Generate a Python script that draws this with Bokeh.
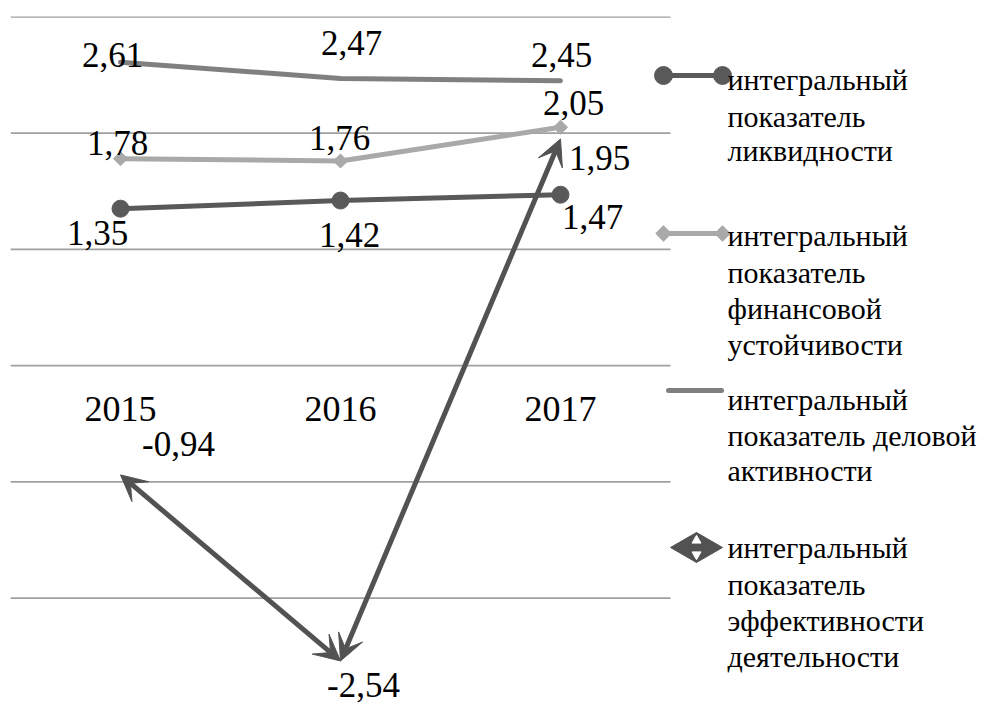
from bokeh.plotting import figure
from bokeh.models import Range1d, ColumnDataSource, Arrow, VeeHead
from bokeh.core.properties import value
from bokeh.embed import file_html
from bokeh.resources import INLINE
import math

# ---- data ----
years = ["2015", "2016", "2017"]
liquidity = [1.35, 1.42, 1.47]
stability = [1.78, 1.76, 2.05]
activity = [2.61, 2.47, 2.45]
efficiency = [-0.94, -2.54, 1.95]
grid_ticks = [-2, -1, 0, 1, 2, 3]
legend_labels = [
    ["интегральный", "показатель", "ликвидности"],
    ["интегральный", "показатель", "финансовой", "устойчивости"],
    ["интегральный", "показатель деловой", "активности"],
    ["интегральный", "показатель", "эффективности", "деятельности"],
]

# ---- styles ----
C_LIQ = "#595959"
C_STAB = "#a9a9a9"
C_ACT = "#808080"
C_EFF = "#525252"
C_GRID = "#a0a0a0"
LBL_SIZE = "35px"
CAT_SIZE = "36px"
LEG_SIZE = "30px"

def serif():
    return value("Liberation Serif")

W, H = 990, 704
BL, BT = 10, 16
frame_w = W - BL
frame_h = H - BT
SX = 220.0
x0 = -0.5
x1 = x0 + frame_w / SX
y1 = 3.003
y0 = y1 - frame_h / 116.26

p = figure(width=W, height=H, output_backend="svg", toolbar_location=None,
           x_axis_type=None, y_axis_type=None,
           x_range=Range1d(x0, x1), y_range=Range1d(y0, y1),
           min_border_left=BL, min_border_top=BT, min_border_right=0, min_border_bottom=0)
p.grid.visible = False
p.outline_line_color = None

# page-pixel -> data helpers
FL = BL
FT = BT
def px(xp):
    return x0 + (xp - FL) / SX
def py(yp):
    return y1 - (yp - FT) * (y1 - y0) / frame_h

xs = list(range(len(years)))

# gridlines (stop at the category area)
p.segment(x0=[x0] * len(grid_ticks), x1=[len(years) - 0.5] * len(grid_ticks),
          y0=grid_ticks, y1=grid_ticks, line_color=C_GRID, line_width=1.6)

# category labels along the zero line
p.text(x=xs, y=[0] * len(xs), text=years, text_font=serif(), text_font_size=CAT_SIZE,
       text_align="center", text_baseline="middle", y_offset=43, text_color="black")

# series lines
p.line(xs, activity, line_color=C_ACT, line_width=5, line_cap="round", line_join="round")
p.line(xs, stability, line_color=C_STAB, line_width=5, line_join="round")
p.scatter(xs, stability, marker="square", angle=math.pi / 4, size=10,
          fill_color=C_STAB, line_color=C_STAB)
p.line(xs, liquidity, line_color=C_LIQ, line_width=5, line_join="round")
p.scatter(xs, liquidity, marker="circle", size=17, fill_color=C_LIQ, line_color=C_LIQ)

# efficiency: double-headed arrows between points
arr_src = ColumnDataSource(dict(x_start=xs[:-1], y_start=efficiency[:-1],
                                x_end=xs[1:], y_end=efficiency[1:]))
arrow = Arrow(source=arr_src, x_start="x_start", y_start="y_start", x_end="x_end", y_end="y_end",
              line_color=C_EFF, line_width=5,
              start=VeeHead(size=26, fill_color=C_EFF, line_color=C_EFF, line_width=1),
              end=VeeHead(size=26, fill_color=C_EFF, line_color=C_EFF, line_width=1))
p.add_layout(arrow)

# data labels
def fmt(v):
    return f"{v:.2f}".replace(".", ",")

def labels(vals, dx, dy):
    p.text(x=xs, y=vals, text=[fmt(v) for v in vals], x_offset=dx, y_offset=dy,
           text_font=serif(), text_font_size=LBL_SIZE, text_align="center",
           text_baseline="middle", text_color="black")

labels(activity, [-8, 11, 1], [-7, -35, -26])
labels(stability, [-3, -1, 13], [-16, -23, -24])
labels(liquidity, [-23, 9, 32], [24, 34, 22])
labels(efficiency, [58, 23, 39], [-31, 24, 19])

# ---- legend (drawn at the right side) ----
TX = 727
# entry 1: line with circles
p.line([px(663), px(722)], [py(75), py(75)], line_color=C_LIQ, line_width=5)
p.scatter([px(663), px(722)], [py(75), py(75)], marker="circle", size=18,
          fill_color=C_LIQ, line_color=C_LIQ)
# entry 2: line with diamonds
p.line([px(663), px(722)], [py(233), py(233)], line_color=C_STAB, line_width=5)
p.scatter([px(663), px(722)], [py(233), py(233)], marker="square", angle=math.pi / 4,
          size=11, fill_color=C_STAB, line_color=C_STAB)
# entry 3: plain line
p.line([px(668), px(721)], [py(390), py(390)], line_color=C_ACT, line_width=5, line_cap="round")
# entry 4: arrow-head pair symbol
p.patch([px(670), px(696), px(722), px(696)], [py(547), py(532), py(547), py(562)],
        fill_color=C_EFF, line_color=C_EFF)
p.scatter([px(696)], [py(540)], marker="triangle", size=9, fill_color="white", line_color="white")
p.scatter([px(696)], [py(554)], marker="inverted_triangle", size=9, fill_color="white", line_color="white")

line_centers = [[82, 119, 153], [238, 275, 311, 347], [402, 438, 473], [550, 587, 623, 659]]
for lines, ys in zip(legend_labels, line_centers):
    p.text(x=[px(TX)] * len(lines), y=[py(v - 3.5) for v in ys], text=lines,
           text_font=serif(), text_font_size=LEG_SIZE, text_align="left",
           text_baseline="middle", text_color="black")

open("out.html", "w").write(file_html(p, INLINE))
